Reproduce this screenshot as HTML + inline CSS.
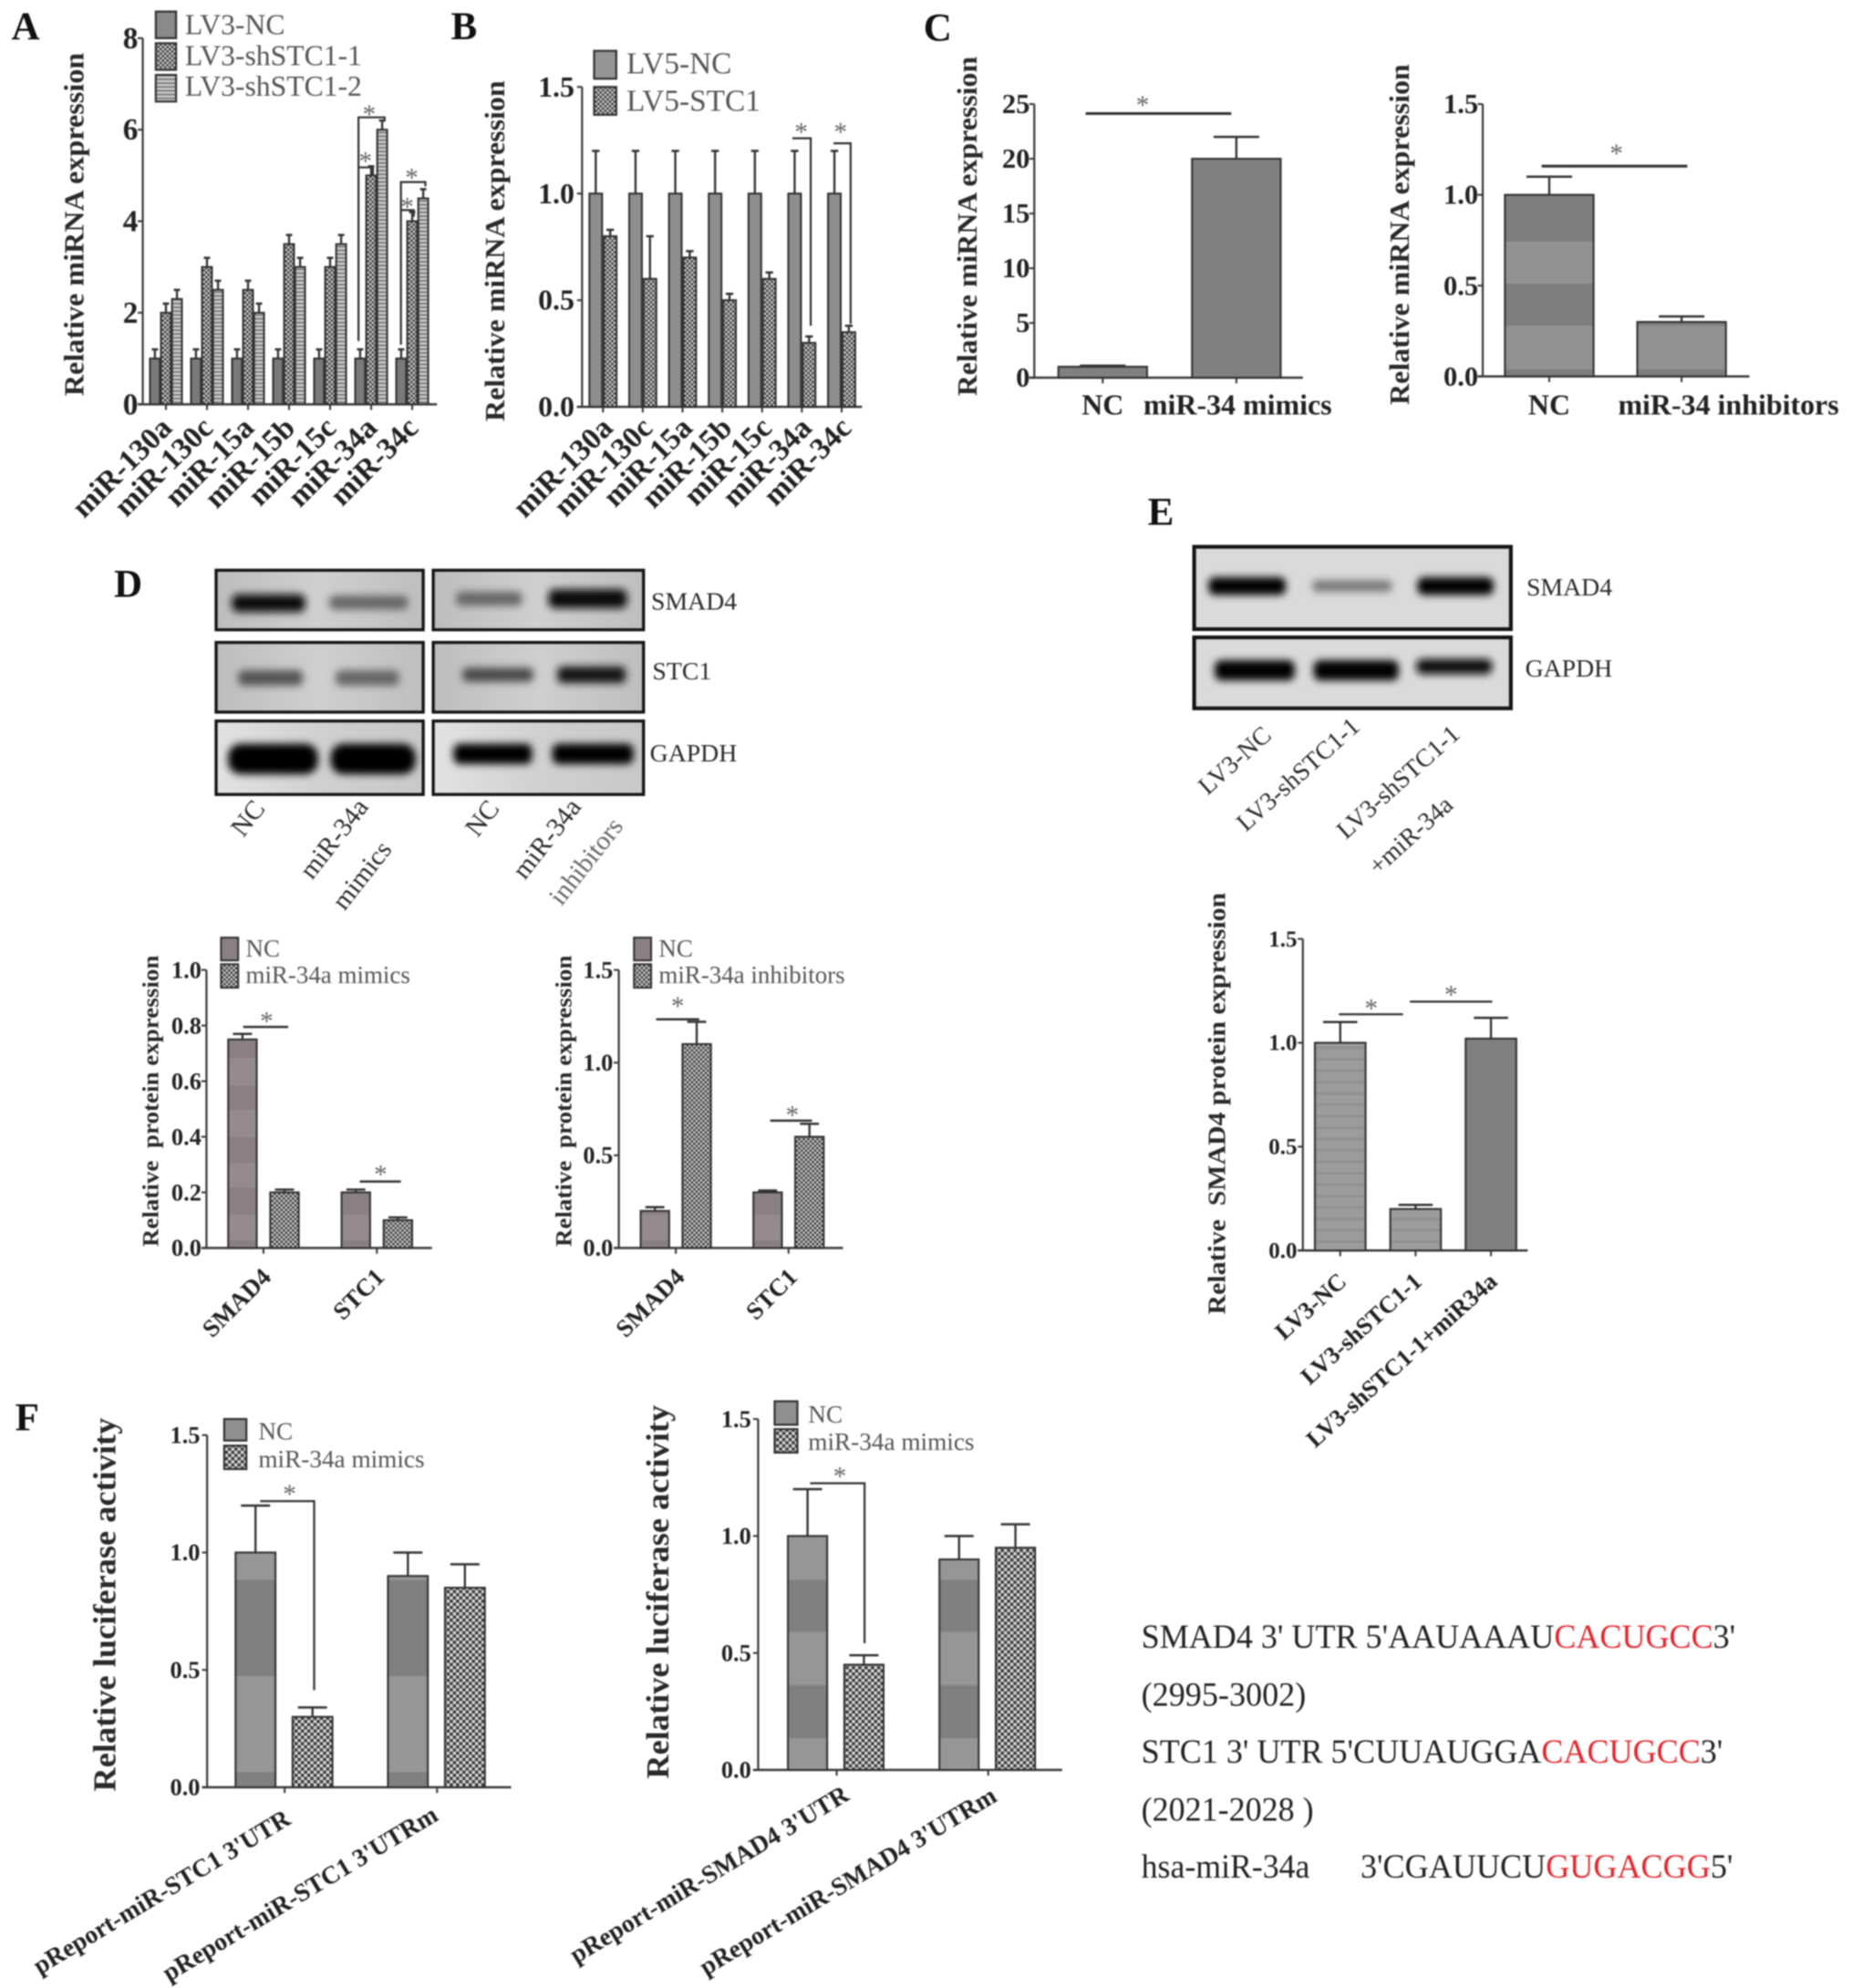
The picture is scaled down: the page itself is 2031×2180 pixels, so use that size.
<!DOCTYPE html>
<html lang="en">
<head>
<meta charset="utf-8">
<title>miR-34a STC1 SMAD4 figure</title>
<style>
html,body{margin:0;padding:0;background:#fff;}
#figure{display:block;width:2031px;height:2180px;filter:blur(.8px);font-family:"Liberation Serif",serif;}
text{white-space:pre;}
.lg{font-size:22.8px;fill:#555;}
.lgs{font-size:19.4px;fill:#555;}
.st{font-size:21px;fill:#666;text-anchor:middle;}
.ltr{font-size:31px;font-weight:bold;fill:#111;}
.wb{font-size:20px;fill:#2a2a2a;}
.seq{font-size:27px;fill:#222;}
.sig{stroke:#333;stroke-width:1.6;fill:none;}
.blot{stroke:#151515;stroke-width:2.4;}
.bd{filter:url(#band-blur);}
</style>
</head>
<body>
<svg id="figure" xmlns="http://www.w3.org/2000/svg" width="2031" height="2180" viewBox="0 0 1462 1569">
<defs>
  <pattern id="checker-small" patternUnits="userSpaceOnUse" width="3.6" height="3.6"><rect width="3.6" height="3.6" fill="#3c3c3c"/><rect width="1.8" height="1.8" fill="#cfcfcf"/><rect x="1.8" y="1.8" width="1.8" height="1.8" fill="#cfcfcf"/></pattern>
  <pattern id="checker-large" patternUnits="userSpaceOnUse" width="5" height="5"><rect width="5" height="5" fill="#3a3a3a"/><rect width="2.5" height="2.5" fill="#d8d8d8"/><rect x="2.5" y="2.5" width="2.5" height="2.5" fill="#d8d8d8"/></pattern>
  <pattern id="stripe-light" patternUnits="userSpaceOnUse" width="4" height="3"><rect width="4" height="3" fill="#c8c8c8"/><rect y="2" width="4" height="1" fill="#666"/></pattern>
  <pattern id="stripe-bar" patternUnits="userSpaceOnUse" width="4" height="9"><rect width="4" height="9" fill="#9c9c9c"/><rect y="7" width="4" height="2" fill="#909090"/></pattern>
  <filter id="band-blur" x="-30%" y="-150%" width="160%" height="400%"><feGaussianBlur stdDeviation="3"/></filter>
  <linearGradient id="blot-bg" x1="0" x2="1" y1="0" y2="0"><stop offset="0" stop-color="#bdbdbd"/><stop offset=".5" stop-color="#cfcfcf"/><stop offset="1" stop-color="#bebebe"/></linearGradient>
  <linearGradient id="blot-bg-light" x1="0" x2="1" y1="0" y2="0"><stop offset="0" stop-color="#e2e2e2"/><stop offset=".5" stop-color="#d0d0d0"/><stop offset="1" stop-color="#c8c8c8"/></linearGradient>
</defs>

<g>
  <text class="ltr" x="9" y="31">A</text>
  <text class="ltr" x="356" y="31">B</text>
  <text class="ltr" x="729" y="32">C</text>
  <text class="ltr" x="90" y="471">D</text>
  <text class="ltr" x="906" y="414">E</text>
  <text class="ltr" x="12" y="1129">F</text>
</g>

<g>
  <rect x="123" y="9" width="16" height="21" fill="#8a8a8a" stroke="#333" stroke-width="1.6"/>
  <rect x="123" y="34" width="16" height="21" fill="url(#checker-small)" stroke="#333" stroke-width="1.6"/>
  <rect x="123" y="59" width="16" height="21" fill="url(#stripe-light)" stroke="#333" stroke-width="1.6"/>
  <text class="lg" x="146" y="27">LV3-NC</text>
  <text class="lg" x="146" y="51.5">LV3-shSTC1-1</text>
  <text class="lg" x="146" y="75.5">LV3-shSTC1-2</text>
</g>
<g>
  <path class="sig" d="M283 269V92.5H303.6V96M283 138V132H294.4V138M316.5 272V143.6H335.8V147M316.5 171V165.7H326.6V171"/>
  <text class="st" x="291.5" y="97">*</text>
  <text class="st" x="288.5" y="134">*</text>
  <text class="st" x="325" y="147">*</text>
  <text class="st" x="321.5" y="170">*</text>
</g>

<g>
  <rect x="469" y="40" width="17.5" height="22" fill="#959595" stroke="#333" stroke-width="1.6"/>
  <rect x="469" y="68.5" width="17.5" height="22" fill="url(#checker-small)" stroke="#333" stroke-width="1.6"/>
  <text class="lg" style="font-size:24px" x="494.5" y="58">LV5-NC</text>
  <text class="lg" style="font-size:24px" x="494.5" y="87.5">LV5-STC1</text>
</g>
<g>
  <path class="sig" d="M625.5 109H640V257M658 113H671.5V255.5"/>
  <text class="st" x="632.5" y="111">*</text>
  <text class="st" x="663.5" y="111">*</text>
</g>

<g>
  <path class="sig" style="stroke-width:2.2" d="M857 89.5H972M1217 131H1332"/>
  <text class="st" x="902" y="90">*</text>
  <text class="st" x="1276" y="128">*</text>
</g>

<g>
  <rect class="blot" x="170.6" y="450" width="163.5" height="47" fill="url(#blot-bg)"/>
  <rect class="blot" x="342" y="450" width="166" height="47" fill="url(#blot-bg)"/>
  <rect class="blot" x="170.6" y="507" width="163.5" height="55" fill="url(#blot-bg)"/>
  <rect class="blot" x="342" y="507" width="166" height="55" fill="url(#blot-bg)"/>
  <rect class="blot" x="170.6" y="569" width="163.5" height="58" fill="url(#blot-bg-light)"/>
  <rect class="blot" x="342" y="569" width="166" height="58" fill="url(#blot-bg-light)"/>
  <rect class="bd" x="183" y="469" width="58" height="14" rx="5" fill="#111"/>
  <rect class="bd" x="260" y="470" width="62" height="11" rx="4" fill="#666"/>
  <rect class="bd" x="360" y="467" width="52" height="11" rx="4" fill="#666"/>
  <rect class="bd" x="433" y="465" width="62" height="15" rx="5" fill="#0c0c0c"/>
  <rect class="bd" x="188" y="529" width="51" height="12" rx="4" fill="#555"/>
  <rect class="bd" x="265" y="529" width="50" height="12" rx="4" fill="#666"/>
  <rect class="bd" x="365" y="527" width="56" height="11" rx="4" fill="#4a4a4a"/>
  <rect class="bd" x="440" y="526" width="54" height="13" rx="4" fill="#141414"/>
  <rect class="bd" x="180" y="587" width="71" height="24" rx="10" fill="#000"/>
  <rect class="bd" x="261" y="587" width="67" height="24" rx="10" fill="#000"/>
  <rect class="bd" x="358" y="587" width="62" height="16" rx="5" fill="#050505"/>
  <rect class="bd" x="436" y="587" width="64" height="16" rx="5" fill="#050505"/>
  <text class="wb" x="514" y="481">SMAD4</text>
  <text class="wb" x="515" y="536">STC1</text>
  <text class="wb" x="513" y="601">GAPDH</text>
  <text class="wb" style="font-size:21px;text-anchor:middle" transform="translate(201 650) rotate(-52)">NC</text>
  <text class="wb" style="font-size:21px;text-anchor:middle" transform="translate(269 666) rotate(-52)">miR-34a</text>
  <text class="wb" style="font-size:21px;text-anchor:middle" transform="translate(291 695) rotate(-52)">mimics</text>
  <text class="wb" style="font-size:21px;text-anchor:middle" transform="translate(386 650) rotate(-52)">NC</text>
  <text class="wb" style="font-size:21px;text-anchor:middle" transform="translate(437 666) rotate(-52)">miR-34a</text>
  <text class="wb" style="font-size:21px;text-anchor:middle;fill:#666" transform="translate(468 684) rotate(-52)">inhibitors</text>
</g>

<g>
  <rect x="174.5" y="740" width="13.5" height="18" fill="#8a8084" stroke="#333" stroke-width="1.5"/>
  <rect x="174.5" y="761" width="13.5" height="18.5" fill="url(#checker-small)" stroke="#333" stroke-width="1.5"/>
  <text class="lgs" x="194" y="755">NC</text>
  <text class="lgs" x="194" y="776">miR-34a mimics</text>
  <path class="sig" style="stroke-width:1.8" d="M192 810.5H227.5M284 932.5H316.5"/>
  <text class="st" x="210.5" y="813">*</text>
  <text class="st" x="300.5" y="934">*</text>
</g>
<g>
  <rect x="500.5" y="740" width="13.5" height="18" fill="#8a8084" stroke="#333" stroke-width="1.5"/>
  <rect x="500.5" y="761" width="13.5" height="18.5" fill="url(#checker-small)" stroke="#333" stroke-width="1.5"/>
  <text class="lgs" x="520" y="755">NC</text>
  <text class="lgs" x="520" y="776">miR-34a inhibitors</text>
  <path class="sig" style="stroke-width:1.8" d="M518 804.5H552M608 884.5H641"/>
  <text class="st" x="535" y="801">*</text>
  <text class="st" x="625.5" y="887">*</text>
</g>

<g>
  <rect class="blot" style="stroke-width:3" x="942.7" y="431.5" width="250" height="65" fill="#dadada"/>
  <rect class="blot" style="stroke-width:3" x="942.7" y="503" width="250" height="56" fill="#dadada"/>
  <rect class="bd" x="954" y="455.5" width="61" height="14" rx="5" fill="#050505"/>
  <rect class="bd" x="1036" y="458" width="63" height="9" rx="4" fill="#777"/>
  <rect class="bd" x="1119" y="455.5" width="60" height="14" rx="5" fill="#050505"/>
  <rect class="bd" x="959" y="521" width="63" height="16" rx="5" fill="#050505"/>
  <rect class="bd" x="1037" y="521" width="67" height="16" rx="5" fill="#050505"/>
  <rect class="bd" x="1118" y="520" width="60" height="12" rx="5" fill="#0c0c0c"/>
  <text class="wb" x="1205" y="470">SMAD4</text>
  <text class="wb" x="1204" y="534">GAPDH</text>
  <text class="wb" style="font-size:20px;text-anchor:middle" transform="translate(979 605) rotate(-42)">LV3-NC</text>
  <text class="wb" style="font-size:20px;text-anchor:middle" transform="translate(1029 616) rotate(-42)">LV3-shSTC1-1</text>
  <text class="wb" style="font-size:20px;text-anchor:middle" transform="translate(1108 622) rotate(-42)">LV3-shSTC1-1</text>
  <text class="wb" style="font-size:20px;text-anchor:middle" transform="translate(1118 664) rotate(-42)">+miR-34a</text>
</g>
<g>
  <path class="sig" d="M1057 800.5H1107.5M1113 790.5H1178"/>
  <text class="st" x="1082.5" y="803">*</text>
  <text class="st" x="1145.5" y="792">*</text>
</g>

<g>
  <rect x="177" y="1120" width="17.5" height="17" fill="#8f8f8f" stroke="#333" stroke-width="1.6"/>
  <rect x="177" y="1141" width="17.5" height="18.5" fill="url(#checker-large)" stroke="#333" stroke-width="1.6"/>
  <text class="lgs" style="font-size:19.6px" x="204" y="1136">NC</text>
  <text class="lgs" style="font-size:19.6px" x="204" y="1158">miR-34a mimics</text>
  <path class="sig" d="M205.4 1184.8H248V1334"/>
  <text class="st" x="228.6" y="1186">*</text>
</g>
<g>
  <rect x="611.5" y="1106" width="18" height="18.5" fill="#8f8f8f" stroke="#333" stroke-width="1.6"/>
  <rect x="611.5" y="1128" width="18" height="18.5" fill="url(#checker-large)" stroke="#333" stroke-width="1.6"/>
  <text class="lgs" style="font-size:19.6px" x="638" y="1123">NC</text>
  <text class="lgs" style="font-size:19.6px" x="638" y="1144.5">miR-34a mimics</text>
  <path class="sig" d="M639.5 1170.7H682.5V1297"/>
  <text class="st" x="663" y="1172">*</text>
</g>

<g>
  <text class="seq" x="901" y="1300.7" textLength="469" lengthAdjust="spacingAndGlyphs">SMAD4 3' UTR 5'AAUAAAU<tspan fill="#e3262c">CACUGCC</tspan>3'</text>
  <text class="seq" x="901" y="1346.3" textLength="130" lengthAdjust="spacingAndGlyphs">(2995-3002)</text>
  <text class="seq" x="901" y="1391.4" textLength="459" lengthAdjust="spacingAndGlyphs">STC1 3' UTR 5'CUUAUGGA<tspan fill="#e3262c">CACUGCC</tspan>3'</text>
  <text class="seq" x="901" y="1437" textLength="136" lengthAdjust="spacingAndGlyphs">(2021-2028 )</text>
  <text class="seq" x="901" y="1482" textLength="133" lengthAdjust="spacingAndGlyphs">hsa-miR-34a</text>
  <text class="seq" x="1074" y="1482" textLength="294" lengthAdjust="spacingAndGlyphs">3'CGAUUCU<tspan fill="#e3262c">GUGACGG</tspan>5'</text>
</g>
</svg>

<script>
// ---- chart data ----
const mirCategories = ['miR-130a','miR-130c','miR-15a','miR-15b','miR-15c','miR-34a','miR-34c'];

const panelATicks = ['0','2','4','6','8'];
const panelANc = [1,1,1,1,1,1,1];
const panelANcErr = [0.2,0.2,0.2,0.2,0.2,0.2,0.2];
const panelASh1 = [2,3,2.5,3.5,3,5,4];
const panelASh1Err = [0.2,0.2,0.2,0.2,0.2,0.2,0.2];
const panelASh2 = [2.3,2.5,2,3,3.5,6,4.5];
const panelASh2Err = [0.2,0.2,0.2,0.2,0.2,0.2,0.2];

const panelBTicks = ['0.0','0.5','1.0','1.5'];
const panelBNc = [1,1,1,1,1,1,1];
const panelBNcErr = [0.2,0.2,0.2,0.2,0.2,0.2,0.2];
const panelBStc1 = [0.8,0.6,0.7,0.5,0.6,0.3,0.35];
const panelBStc1Err = [0.03,0.2,0.03,0.03,0.03,0.03,0.03];

const panelC1Categories = ['NC','miR-34 mimics'];
const panelC1Ticks = ['0','5','10','15','20','25'];
const panelC1Values = [1,20];
const panelC1Err = [0.1,2];

const panelC2Categories = ['NC','miR-34 inhibitors'];
const panelC2Ticks = ['0.0','0.5','1.0','1.5'];
const panelC2Values = [1,0.3];
const panelC2Err = [0.1,0.03];

const proteinCategories = ['SMAD4','STC1'];
const panelD1Ticks = ['0.0','0.2','0.4','0.6','0.8','1.0'];
const panelD1Nc = [0.75,0.2];
const panelD1NcErr = [0.02,0.01];
const panelD1Mimics = [0.2,0.1];
const panelD1MimicsErr = [0.01,0.01];

const panelD2Ticks = ['0.0','0.5','1.0','1.5'];
const panelD2Nc = [0.2,0.3];
const panelD2NcErr = [0.02,0.01];
const panelD2Inhibitors = [1.1,0.6];
const panelD2InhibitorsErr = [0.12,0.07];

const panelECategories = ['LV3-NC','LV3-shSTC1-1','LV3-shSTC1-1+miR34a'];
const panelETicks = ['0.0','0.5','1.0','1.5'];
const panelEValues = [1,0.2,1.02];
const panelEErr = [0.1,0.02,0.1];

const panelF1Categories = ["pReport-miR-STC1 3'UTR","pReport-miR-STC1 3'UTRm"];
const panelF1Ticks = ['0.0','0.5','1.0','1.5'];
const panelF1Nc = [1,0.9];
const panelF1NcErr = [0.2,0.1];
const panelF1Mimics = [0.3,0.85];
const panelF1MimicsErr = [0.04,0.1];

const panelF2Categories = ["pReport-miR-SMAD4 3'UTR","pReport-miR-SMAD4 3'UTRm"];
const panelF2Ticks = ['0.0','0.5','1.0','1.5'];
const panelF2Nc = [1,0.9];
const panelF2NcErr = [0.2,0.1];
const panelF2Mimics = [0.45,0.95];
const panelF2MimicsErr = [0.04,0.1];

// ---- drawing ----
const NS = 'http://www.w3.org/2000/svg';
const figure = document.getElementById('figure');
const defs = figure.querySelector('defs');

function node(parent, tag) {
  const el = document.createElementNS(NS, tag);
  parent.appendChild(el);
  return el;
}

function addBands(id, y1, y2, colors, bounds) {
  const grad = node(defs, 'linearGradient');
  grad.setAttribute('id', id);
  grad.setAttribute('gradientUnits', 'userSpaceOnUse');
  grad.setAttribute('x1', 0); grad.setAttribute('x2', 0);
  grad.setAttribute('y1', y1); grad.setAttribute('y2', y2);
  let prev = 0;
  const stops = bounds.map(b => (b - y1) / (y2 - y1)).concat([1]);
  stops.forEach((off, i) => {
    const col = colors[i % 2];
    [prev, off].forEach(o => {
      const s = node(grad, 'stop');
      s.setAttribute('offset', o);
      s.setAttribute('stop-color', col);
    });
    prev = off;
  });
}
addBands('bands-c2', 82, 297, ['#7e7e7e','#929292'], [190.6,223.8,257,291.4]);
addBands('bands-d', 765, 985, ['#8a8084','#958b8e'], [835,857,876,897.5,918,937,958.7,979]);
addBands('bands-f1', 1133, 1411, ['#969696','#808080'], [1247,1323,1399]);
addBands('bands-f2', 1121, 1398, ['#969696','#808080'], [1247,1288,1330,1372]);

function addLine(parent, x1, y1, x2, y2, width, color) {
  const l = node(parent, 'line');
  l.setAttribute('x1', x1); l.setAttribute('y1', y1);
  l.setAttribute('x2', x2); l.setAttribute('y2', y2);
  l.setAttribute('stroke', color || '#3a3a3a');
  l.setAttribute('stroke-width', width || 1.5);
  return l;
}

function drawChart(c) {
  const g = node(figure, 'g');
  
  

  const yScale = v => c.zero - (v / c.max) * (c.zero - c.top);
  const xTick = i => c.firstTick + i * c.pitch;

  // axes
  const yAxis = addLine(g, c.axisX, c.top, c.axisX, c.zero + 0.8, 1.6);
  
  
  const xAxis = addLine(g, c.axisX - 4, c.zero, c.right, c.zero, 1.8);
  
  

  // y ticks
  c.yTicks.forEach(label => {
    const y = yScale(Number(label));
    const t = addLine(g, c.axisX - 4, y, c.axisX, y, 1.5);
    
    
    const txt = node(g, 'text');
    
    
    txt.setAttribute('x', c.tickLabelX);
    txt.setAttribute('y', y + c.tickSize * 0.33);
    txt.setAttribute('text-anchor', 'end');
    txt.setAttribute('font-size', c.tickSize);
    txt.setAttribute('font-weight', 'bold');
    txt.setAttribute('fill', '#222');
    txt.textContent = label;
  });

  // y title
  const title = node(g, 'text');
  
  
  title.setAttribute('transform', 'translate(' + c.yTitle.x + ' ' + c.yTitle.y + ') rotate(-90)');
  title.setAttribute('text-anchor', 'middle');
  title.setAttribute('font-size', c.yTitle.size);
  title.setAttribute('font-weight', 'bold');
  title.setAttribute('fill', '#2a2a2a');
  title.setAttribute('textLength', c.yTitle.length);
  title.setAttribute('lengthAdjust', 'spacingAndGlyphs');
  title.textContent = c.yTitle.text;

  // categories
  c.categories.forEach((cat, i) => {
    const x = xTick(i);
    const t = addLine(g, x, c.zero, x, c.zero + 4.5, 1.5);
    
    
    const lab = c.xLabel;
    const txt = node(g, 'text');
    
    
    const shift = lab.offsets ? lab.offsets[i] : lab.dx;
    const lift = lab.lifts ? lab.lifts[i] : 0;
    txt.setAttribute('transform', 'translate(' + (x + shift) + ' ' + (lab.y + lift) + ') rotate(' + lab.rot + ')');
    txt.setAttribute('text-anchor', lab.anchor);
    txt.setAttribute('font-size', lab.size);
    txt.setAttribute('font-weight', 'bold');
    if (lab.italic) txt.setAttribute('font-style', 'italic');
    txt.setAttribute('fill', '#222');
    txt.textContent = cat;
  });

  // bars with error bars
  c.series.forEach(s => {
    s.values.forEach((v, i) => {
      const cx = xTick(i) + s.offset;
      const top = yScale(v);
      const errTop = yScale(v + s.errs[i]);
      const stem = addLine(g, cx, top, cx, errTop, 1.7, '#333');
      
      
      const cap = addLine(g, cx - c.capWidth / 2, errTop, cx + c.capWidth / 2, errTop, 1.8, '#333');
      
      
      const bar = node(g, 'rect');
      
      
      bar.setAttribute('x', cx - c.barWidth / 2);
      bar.setAttribute('y', top);
      bar.setAttribute('width', c.barWidth);
      bar.setAttribute('height', c.zero - top);
      bar.setAttribute('fill', Array.isArray(s.fill) ? s.fill[i] : s.fill);
      bar.setAttribute('stroke', '#333');
      bar.setAttribute('stroke-width', 1.5);
    });
  });
}

drawChart({
  name:'panel-a', axisX:112.7, top:30, zero:319, right:345, max:8,
  firstTick:131, pitch:32.4, barWidth:7.8, capWidth:5, tickLabelX:109, tickSize:24,
  yTicks:panelATicks, categories:mirCategories,
  yTitle:{text:'Relative miRNA expression', x:66, y:177, size:22, length:271},
  xLabel:{dx:6, y:339, rot:-45, size:24, anchor:'end'},
  series:[
    {key:'lv3-nc', values:panelANc, errs:panelANcErr, offset:-8.7, fill:'#7a7a7a'},
    {key:'lv3-shstc1-1', values:panelASh1, errs:panelASh1Err, offset:0, fill:'url(#checker-small)'},
    {key:'lv3-shstc1-2', values:panelASh2, errs:panelASh2Err, offset:8.7, fill:'url(#stripe-light)'}
  ]
});
drawChart({
  name:'panel-b', axisX:459.5, top:68.5, zero:321, right:680.5, max:1.5,
  firstTick:476, pitch:31.4, barWidth:10, capWidth:6, tickLabelX:453.5, tickSize:23,
  yTicks:panelBTicks, categories:mirCategories,
  yTitle:{text:'Relative miRNA expression', x:398, y:198, size:22, length:269},
  xLabel:{dx:9, y:339, rot:-45, size:24, anchor:'end'},
  series:[
    {key:'lv5-nc', values:panelBNc, errs:panelBNcErr, offset:-5.7, fill:'#8e8e8e'},
    {key:'lv5-stc1', values:panelBStc1, errs:panelBStc1Err, offset:5.7, fill:'url(#checker-small)'}
  ]
});
drawChart({
  name:'panel-c-mimics', axisX:816.5, top:82, zero:298, right:1028.5, max:25,
  firstTick:870.5, pitch:105.5, barWidth:70, capWidth:36, tickLabelX:813, tickSize:22,
  yTicks:panelC1Ticks, categories:panelC1Categories,
  yTitle:{text:'Relative miRNA expression', x:771, y:178.5, size:22, length:268},
  xLabel:{offsets:[0,1], y:327, rot:0, size:23, anchor:'middle'},
  series:[{key:'expression', values:panelC1Values, errs:panelC1Err, offset:0, fill:'#808080'}]
});
drawChart({
  name:'panel-c-inhibitors', axisX:1170.5, top:82, zero:297, right:1381, max:1.5,
  firstTick:1223, pitch:104.5, barWidth:70, capWidth:36, tickLabelX:1167, tickSize:22,
  yTicks:panelC2Ticks, categories:panelC2Categories,
  yTitle:{text:'Relative miRNA expression', x:1112, y:185, size:22, length:269},
  xLabel:{offsets:[0,37], y:327, rot:0, size:23, anchor:'middle'},
  series:[{key:'expression', values:panelC2Values, errs:panelC2Err, offset:0, fill:'url(#bands-c2)'}]
});
drawChart({
  name:'panel-d-mimics', axisX:163, top:765.5, zero:985, right:341, max:1,
  firstTick:208, pitch:89.5, barWidth:22.5, capWidth:15, tickLabelX:159, tickSize:19,
  yTicks:panelD1Ticks, categories:proteinCategories,
  yTitle:{text:'Relative  protein expression', x:125, y:869, size:18, length:230},
  xLabel:{dx:7, y:1009, rot:-45, size:19.5, anchor:'end'},
  series:[
    {key:'nc', values:panelD1Nc, errs:panelD1NcErr, offset:-16.6, fill:'url(#bands-d)'},
    {key:'mimics', values:panelD1Mimics, errs:panelD1MimicsErr, offset:16.6, fill:'url(#checker-small)'}
  ]
});
drawChart({
  name:'panel-d-inhibitors', axisX:488.5, top:765.5, zero:985, right:665.5, max:1.5,
  firstTick:533.5, pitch:89, barWidth:22.5, capWidth:15, tickLabelX:484, tickSize:19,
  yTicks:panelD2Ticks, categories:proteinCategories,
  yTitle:{text:'Relative  protein expression', x:451, y:869, size:18, length:230},
  xLabel:{dx:8, y:1009, rot:-45, size:19.5, anchor:'end'},
  series:[
    {key:'nc', values:panelD2Nc, errs:panelD2NcErr, offset:-16.5, fill:'url(#bands-d)'},
    {key:'inhibitors', values:panelD2Inhibitors, errs:panelD2InhibitorsErr, offset:16.5, fill:'url(#checker-small)'}
  ]
});
drawChart({
  name:'panel-e', axisX:1028.5, top:741, zero:987, right:1206, max:1.5,
  firstTick:1058, pitch:59.5, barWidth:40, capWidth:27, tickLabelX:1024, tickSize:18,
  yTicks:panelETicks, categories:panelECategories,
  yTitle:{text:'Relative  SMAD4 protein expression', x:967, y:871, size:20, length:333},
  xLabel:{dx:6, y:1013, rot:-42, size:19, anchor:'end'},
  series:[{key:'smad4', values:panelEValues, errs:panelEErr, offset:0, fill:['url(#stripe-bar)','url(#stripe-bar)','#808080']}]
});
drawChart({
  name:'panel-f-stc1', axisX:163.5, top:1132.7, zero:1410.7, right:403.5, max:1.5,
  firstTick:224.7, pitch:120.3, barWidth:31.5, capWidth:23, tickLabelX:158, tickSize:19,
  yTicks:panelF1Ticks, categories:panelF1Categories,
  yTitle:{text:'Relative luciferase activity', x:91, y:1266.5, size:25, length:295},
  xLabel:{offsets:[6,2], lifts:[-2,-5], y:1441, rot:-31, size:20, anchor:'end'},
  series:[
    {key:'nc', values:panelF1Nc, errs:panelF1NcErr, offset:-23, fill:'url(#bands-f1)'},
    {key:'mimics', values:panelF1Mimics, errs:panelF1MimicsErr, offset:22, fill:'url(#checker-large)'}
  ]
});
drawChart({
  name:'panel-f-smad4', axisX:598.5, top:1120, zero:1397, right:838.5, max:1.5,
  firstTick:660.5, pitch:119.6, barWidth:31, capWidth:23, tickLabelX:593, tickSize:19,
  yTicks:panelF2Ticks, categories:panelF2Categories,
  yTitle:{text:'Relative luciferase activity', x:527.5, y:1256.5, size:25, length:295},
  xLabel:{offsets:[11,8], lifts:[-4,-3], y:1424, rot:-31, size:20, anchor:'end'},
  series:[
    {key:'nc', values:panelF2Nc, errs:panelF2NcErr, offset:-23, fill:'url(#bands-f2)'},
    {key:'mimics', values:panelF2Mimics, errs:panelF2MimicsErr, offset:21.5, fill:'url(#checker-large)'}
  ]
});
</script>
</body>
</html>
